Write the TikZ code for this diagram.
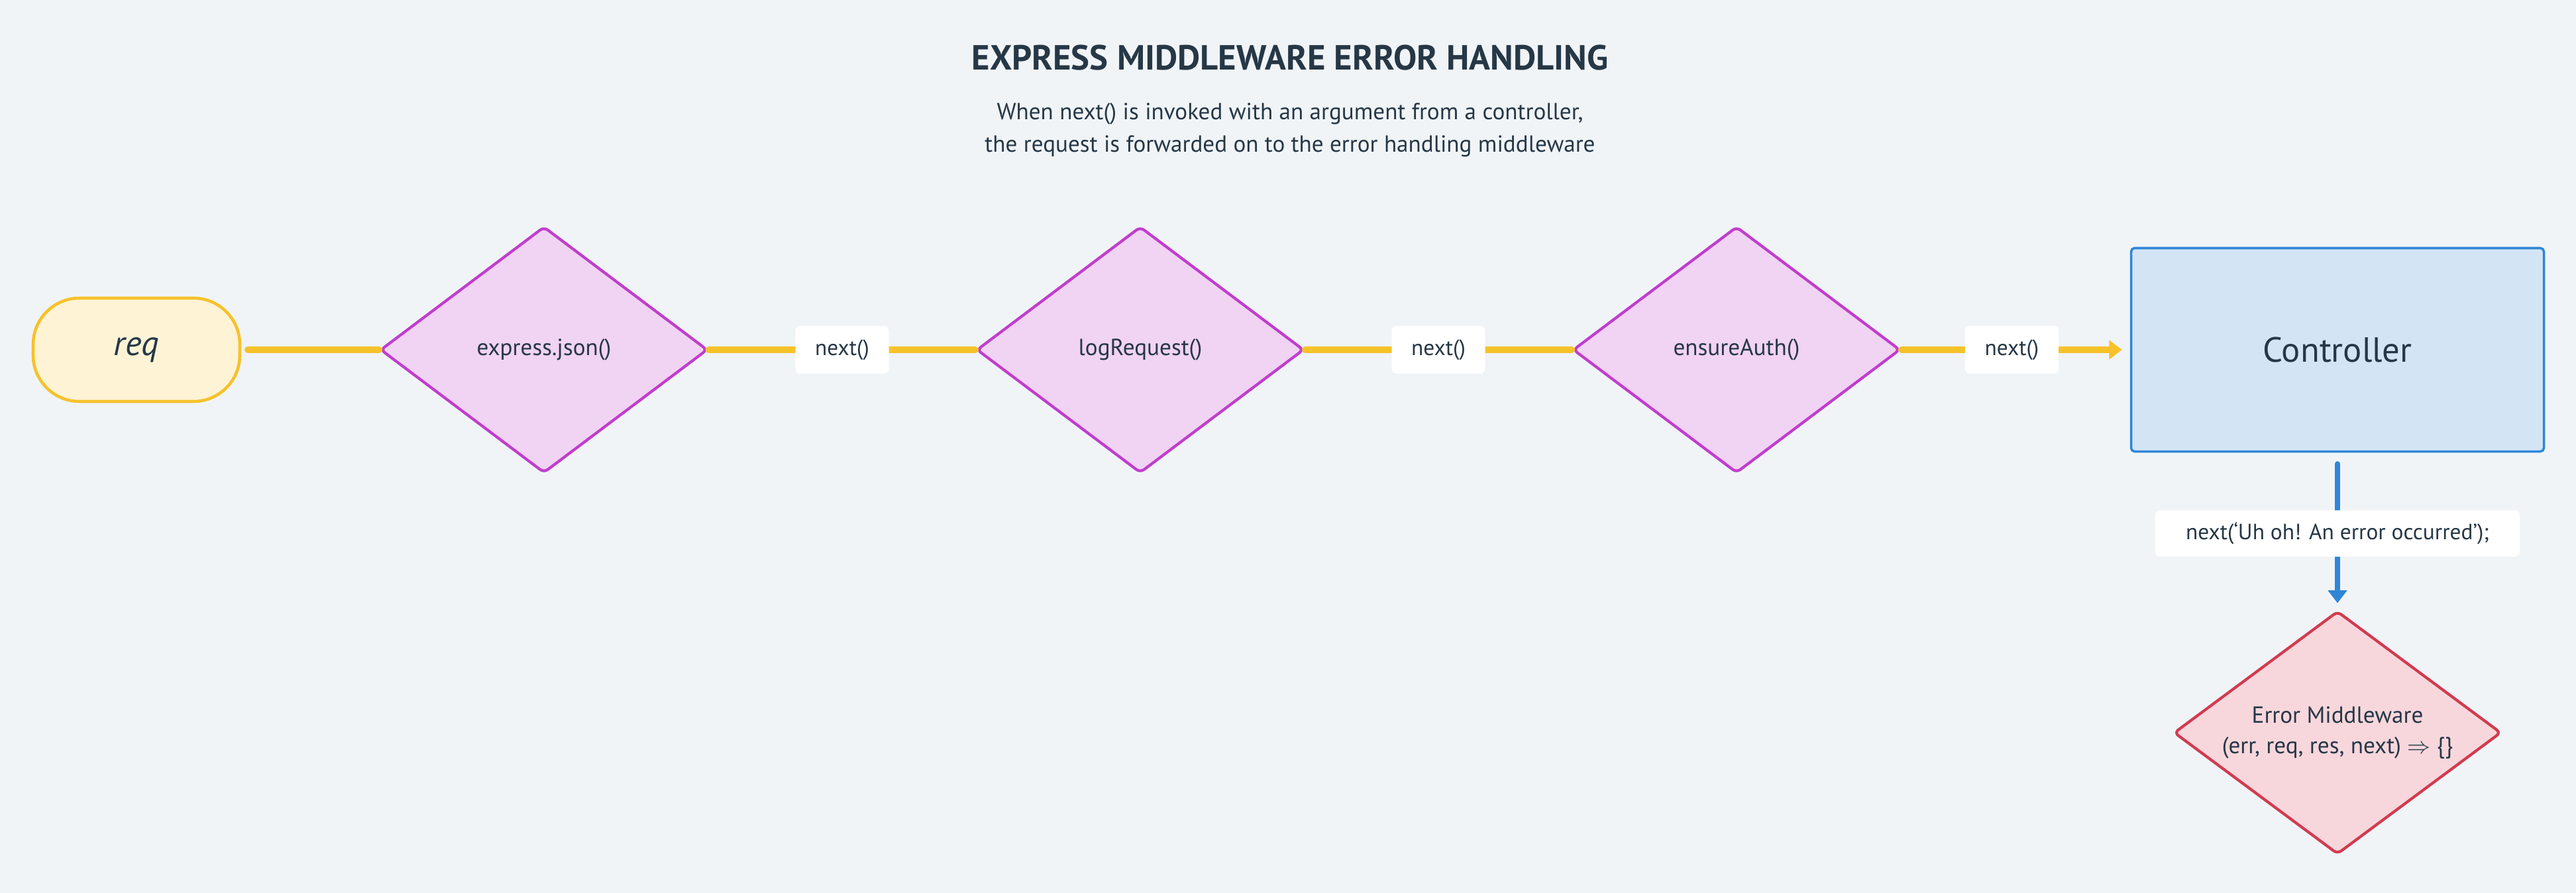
\documentclass[tikz,border=0pt]{standalone}
\usepackage{fontspec}
\setmainfont{PT Sans}
\usetikzlibrary{shapes.geometric, arrows.meta, positioning}
\definecolor{bgc}{HTML}{F0F4F7}
\definecolor{ink}{HTML}{263746}
\definecolor{flow}{HTML}{F6C22A}
\definecolor{reqfill}{HTML}{FFF3D6}
\definecolor{mwline}{HTML}{C13DCC}
\definecolor{mwfill}{HTML}{F1D3F4}
\definecolor{ctrlline}{HTML}{2F86D7}
\definecolor{ctrlfill}{HTML}{D3E5F5}
\definecolor{errline}{HTML}{D13B50}
\definecolor{errfill}{HTML}{F7D7DC}
\tikzstyle{every node}=[font=\fontsize{10}{13}\selectfont, text=ink]
\tikzstyle{mw}=[draw=mwline,fill=mwfill,diamond,aspect=1.33,line width=1.2pt,minimum width=4.94cm,minimum height=3.72cm,inner sep=0pt,rounded corners=2pt]
\tikzstyle{errmw}=[mw,draw=errline,fill=errfill,minimum height=3.67cm,align=center]
\tikzstyle{ctrl}=[draw=ctrlline,fill=ctrlfill,rectangle,line width=1pt,minimum width=6.23cm,minimum height=3.07cm,rounded corners=1.5pt,font=\fontsize{15}{18}\selectfont]
\tikzstyle{reqbox}=[draw=flow,fill=reqfill,rectangle,line width=1.3pt,minimum width=3.12cm,minimum height=1.56cm,rounded corners=0.7cm,font=\fontsize{15}{18}\selectfont\itshape]
\tikzstyle{lbl}=[fill=white,rectangle,rounded corners=2pt,minimum width=1.41cm,minimum height=0.72cm,inner sep=2pt,font=\fontsize{9.5}{12}\selectfont]
\tikzstyle{flowline}=[draw=flow,line width=3pt,line cap=round]

\begin{document}
\begin{tikzpicture}[>={Triangle[length=5.5pt,width=8pt]}, node distance=9cm]
  \fill[bgc] (0,0) rectangle (38.88,-13.48);
  \useasboundingbox (0,0) rectangle (38.88,-13.48);
  \node[font=\fontsize{15}{18}\selectfont\bfseries] (title) at (19.47,-0.87) {EXPRESS MIDDLEWARE ERROR HANDLING};
  \node[align=center, font=\fontsize{10}{14}\selectfont] (sub) at (19.47,-1.96) {When next() is invoked with an argument from a controller,\\the request is forwarded on to the error handling middleware};
  \node[reqbox] (req) at (2.06,-5.28) {req};
  \node[mw, right of=req, node distance=6.15cm] (json) {express.json()};
  \node[mw, right of=json] (log) {logRequest()};
  \node[mw, right of=log] (auth) {ensureAuth()};
  \node[ctrl, right of=auth, node distance=9.07cm] (controller) {Controller};
  \node[errmw, below of=controller, node distance=5.78cm] (err) {Error Middleware\\(err, req, res, next) $\Rightarrow$ \{\}};
  \draw[flowline] ([xshift=0.1cm]req.east) -- (json.west);
  \draw[flowline] (json.east) -- node[lbl] {next()} (log.west);
  \draw[flowline] (log.east) -- node[lbl] {next()} (auth.west);
  \draw[flowline, ->] (auth.east) -- node[lbl] {next()} ([xshift=-0.12cm]controller.west);
  \draw[draw=ctrlline, line width=2.3pt, line cap=round, ->] ([yshift=-0.17cm]controller.south) -- node[lbl, minimum width=5.5cm, minimum height=0.7cm] {next(‘Uh oh! An error occurred’);} ([yshift=0.1cm]err.north);
\end{tikzpicture}
\end{document}
